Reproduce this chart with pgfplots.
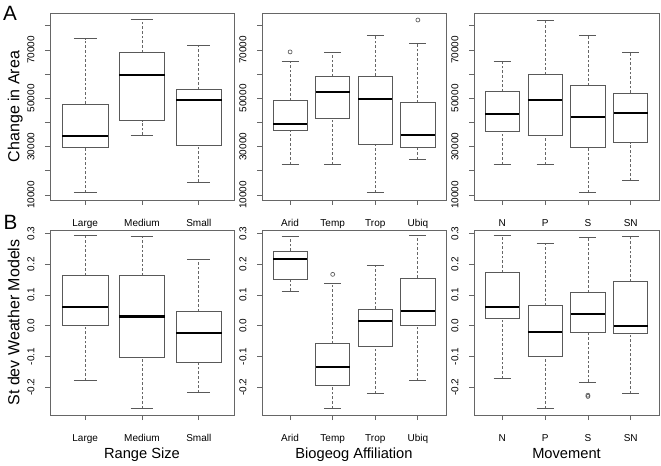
\documentclass[border=0pt]{standalone}
\usepackage{fontspec}
\setmainfont{Liberation Sans}
\usepackage{pgfplots}
\pgfplotsset{compat=1.18}

\pgfplotsset{
  rax/.style={
    scale only axis, width=138pt,
    axis line style={draw=black!60, line width=0.6pt},
    tick align=outside, major tick length=3.75pt,
    tick style={draw=black!60, line width=0.6pt},
    xtick pos=left, ytick pos=left,
    ticklabel style={font=\fontsize{7.5}{9}\selectfont},
    yticklabel style={xshift=-8pt, rotate=90, anchor=base},
    xticklabel style={anchor=base, yshift=-16.2pt},
    scaled y ticks=false,
    /pgf/number format/assume math mode=true,
    ylabel style={at={(axis description cs:-0.1667,0.5)}, anchor=base, font=\fontsize{12}{14}\selectfont},
    xlabel style={at={(axis description cs:0.5,-0.2342)}, anchor=base, font=\fontsize{11}{13}\selectfont},
  },
  % top row values in thousands
  toprow/.style={rax, height=140.25pt, ymin=7.93, ymax=85.3,
    ytick={10,20,30,40,50,60,70,80},
    yticklabels={10000,,30000,,50000,,70000,}},
  botrow/.style={rax, height=138.75pt, ymin=-0.2904, ymax=0.3112,
    ytick={-0.2,-0.1,0,0.1,0.2,0.3},
    yticklabels={-0.2,-0.1,0.0,0.1,0.2,0.3}},
  three/.style={xmin=0.38, xmax=3.62, xtick={1,2,3}},
  four/.style={xmin=0.34, xmax=4.66, xtick={1,2,3,4}},
  rwhisk/.style={draw=black!60, line width=0.6pt, dash pattern=on 2pt off 1.5pt, mark=none},
  rcap/.style={draw=black!65, line width=0.6pt, mark=none},
  rboxs/.style={draw=black!65, line width=0.6pt, mark=none, line join=miter, line cap=rect},
  rmed/.style={draw=black, line width=1.6pt, mark=none, line cap=butt},
  rout/.style={only marks, mark=o, mark size=1.5pt, draw=black!65, mark options={line width=0.5pt}},
}
% #1 position, #2 lower whisker, #3 lower quartile, #4 median, #5 upper quartile, #6 upper whisker
\newcommand{\bx}[6]{%
  \pgfmathsetmacro\bxL{#1-0.4}\pgfmathsetmacro\bxR{#1+0.4}%
  \pgfmathsetmacro\bxCL{#1-0.2}\pgfmathsetmacro\bxCR{#1+0.2}%
  \edef\bxtmp{%
    \noexpand\addplot[rwhisk] coordinates {(#1,#2) (#1,#3)};
    \noexpand\addplot[rwhisk] coordinates {(#1,#5) (#1,#6)};
    \noexpand\addplot[rcap] coordinates {(\bxCL,#2) (\bxCR,#2)};
    \noexpand\addplot[rcap] coordinates {(\bxCL,#6) (\bxCR,#6)};
    \noexpand\addplot[rboxs] coordinates {(\bxL,#3) (\bxR,#3) (\bxR,#5) (\bxL,#5) (\bxL,#3)};
    \noexpand\addplot[rmed] coordinates {(\bxL,#4) (\bxR,#4)};
  }\bxtmp}

\begin{document}
\begin{tikzpicture}
\path (0,0) rectangle (495.75pt,348pt);
\node[anchor=base west, font=\fontsize{15.5}{18}\selectfont, inner sep=0pt] at (2.2pt,332.25pt) {A};
\node[anchor=base west, font=\fontsize{15.5}{18}\selectfont, inner sep=0pt] at (2.5pt,175.5pt) {B};

% ---- Top row (Change in Area, in thousands) ----
\begin{axis}[toprow, three, at={(37.5pt,198pt)}, anchor=south west,
  xticklabels={Large,Medium,Small}, ylabel={Change in Area}]
\bx{1}{10.95}{29.6}{34.4}{47.65}{74.7}
\bx{2}{34.8}{40.75}{59.6}{69.0}{82.7}
\bx{3}{15.4}{30.4}{49.2}{53.7}{72.0}
\end{axis}

\begin{axis}[toprow, four, at={(196.5pt,198pt)}, anchor=south west,
  xticklabels={Arid,Temp,Trop,Ubiq}]
\bx{1}{22.7}{36.6}{39.25}{49.2}{65.15}
\bx{2}{22.7}{41.7}{52.6}{59.1}{69.0}
\bx{3}{10.95}{30.8}{49.6}{59.2}{76.05}
\bx{4}{24.8}{29.86}{34.9}{48.2}{72.9}
\addplot[rout] coordinates {(1,69.2) (4,82.4)};
\end{axis}

\begin{axis}[toprow, four, at={(355.5pt,198pt)}, anchor=south west, width=138.75pt,
  xticklabels={N,P,S,SN}]
\bx{1}{22.7}{36.5}{43.4}{52.75}{65.15}
\bx{2}{22.7}{34.8}{49.3}{59.8}{82.4}
\bx{3}{10.95}{29.6}{42.15}{55.2}{76.05}
\bx{4}{15.9}{31.65}{44.05}{52.2}{69.2}
\end{axis}

% ---- Bottom row ----
\begin{axis}[botrow, three, at={(37.5pt,36.75pt)}, anchor=south west,
  xticklabels={Large,Medium,Small}, ylabel={St dev Weather Models}, xlabel={Range Size}]
\bx{1}{-0.179}{0.000}{0.061}{0.164}{0.294}
\bx{2}{-0.269}{-0.104}{0.030}{0.163}{0.292}
\bx{3}{-0.218}{-0.119}{-0.024}{0.047}{0.216}
\end{axis}

\begin{axis}[botrow, four, at={(196.5pt,36.75pt)}, anchor=south west,
  xticklabels={Arid,Temp,Trop,Ubiq}, xlabel={Biogeog Affiliation}]
\bx{1}{0.113}{0.152}{0.216}{0.243}{0.292}
\bx{2}{-0.269}{-0.194}{-0.133}{-0.057}{0.138}
\bx{3}{-0.220}{-0.067}{0.014}{0.054}{0.196}
\bx{4}{-0.179}{0.000}{0.048}{0.155}{0.294}
\addplot[rout] coordinates {(2,0.167)};
\end{axis}

\begin{axis}[botrow, four, at={(355.5pt,36.75pt)}, anchor=south west, width=138.75pt,
  xticklabels={N,P,S,SN}, xlabel={Movement}]
\bx{1}{-0.171}{0.024}{0.061}{0.173}{0.294}
\bx{2}{-0.269}{-0.100}{-0.020}{0.065}{0.266}
\bx{3}{-0.183}{-0.022}{0.037}{0.108}{0.288}
\bx{4}{-0.220}{-0.025}{0.000}{0.144}{0.292}
\addplot[rout] coordinates {(3,-0.226) (3,-0.230)};
\end{axis}
\end{tikzpicture}
\end{document}
